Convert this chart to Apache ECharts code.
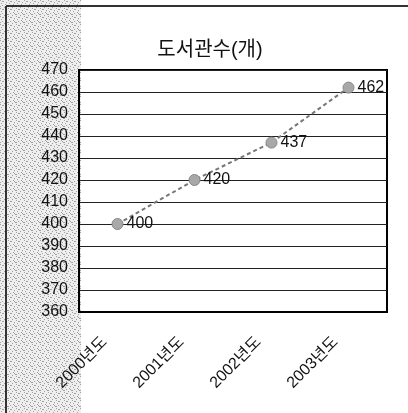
<!DOCTYPE html>
<html>
<head>
<meta charset="utf-8">
<script src="https://cdn.jsdelivr.net/npm/echarts@6/dist/echarts.min.js"></script>
<style>
html,body{margin:0;padding:0;background:#fff;}
#c{width:408px;height:413px;}
</style>
</head>
<body>
<div id="c"></div>
<script>
const title = '도서관수(개)';
const categories = ['2000년도', '2001년도', '2002년도', '2003년도'];
const values = [400, 420, 437, 462];
const yMin = 360, yMax = 470, yStep = 10;

// speckle texture (deterministic)
const pc = document.createElement('canvas');
pc.width = 8; pc.height = 8;
const pctx = pc.getContext('2d');
pctx.fillStyle = '#eeeeee';
pctx.fillRect(0, 0, 8, 8);
pctx.fillStyle = '#a0a0a0';
[[0,0],[3,1],[6,2],[1,3],[5,4],[2,5],[7,6],[4,7],[2,1],[6,5],[0,6]].forEach(p => pctx.fillRect(p[0], p[1], 1, 1));

const font = '"Liberation Sans", "Noto Sans CJK KR", sans-serif';
const chart = echarts.init(document.getElementById('c'), null, {renderer: 'canvas'});
chart.setOption({
  animation: false,
  backgroundColor: '#fff',
  graphic: [
    {type: 'rect', shape: {x: 0, y: 0, width: 81, height: 413}, style: {fill: {image: pc, repeat: 'repeat'}}, z: -10},
    {type: 'line', shape: {x1: 6, y1: 6, x2: 408, y2: 6}, style: {stroke: '#333', lineWidth: 2}, z: 10},
    {type: 'line', shape: {x1: 6, y1: 6, x2: 6, y2: 413}, style: {stroke: '#333', lineWidth: 2}, z: 10}
  ],
  title: {
    text: title, left: 205, top: 35, textAlign: 'center',
    textStyle: {fontFamily: font, fontSize: 20, fontWeight: 'normal', color: '#111'}
  },
  grid: {left: 79, right: 21, top: 70, bottom: 101, show: true, borderColor: '#000', borderWidth: 2},
  xAxis: {
    type: 'category', data: categories, boundaryGap: true,
    axisLine: {lineStyle: {color: '#000', width: 2}},
    axisTick: {inside: true, length: 6, lineStyle: {color: '#000'}},
    axisLabel: {rotate: 45, margin: 15, padding: [0, 18, 0, 0], fontFamily: font, fontSize: 16, color: '#111'}
  },
  yAxis: {
    type: 'value', min: yMin, max: yMax, interval: yStep,
    axisLine: {show: true, lineStyle: {color: '#000', width: 2}},
    axisTick: {show: false},
    axisLabel: {margin: 11, fontFamily: font, fontSize: 16, color: '#111'},
    splitLine: {show: true, lineStyle: {color: '#222', width: 1}}
  },
  series: [{
    type: 'line', data: values,
    symbol: 'circle', symbolSize: 11,
    itemStyle: {color: '#a8a8a8', borderColor: '#888', borderWidth: 1},
    lineStyle: {color: '#777', width: 2, type: [4, 3]},
    label: {show: true, position: 'right', distance: 3, fontFamily: font, fontSize: 16, color: '#111'}
  }]
});
</script>
</body>
</html>
